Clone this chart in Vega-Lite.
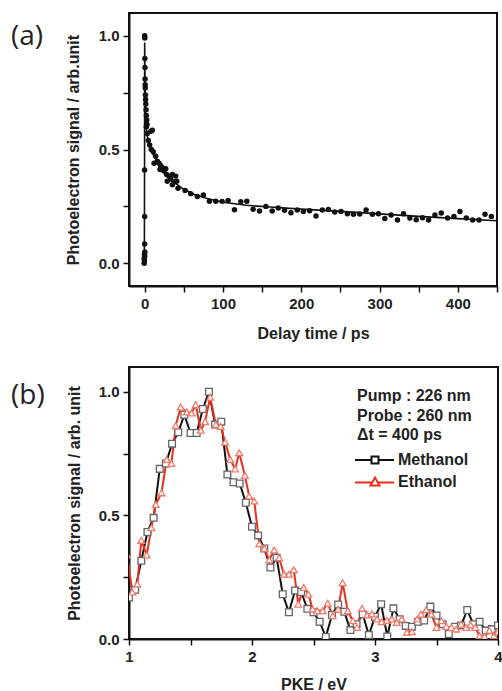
{
  "$schema": "https://vega.github.io/schema/vega-lite/v6.json",
  "padding": {"left": 10, "top": 12, "right": 0, "bottom": 0},
  "spacing": 24,
  "resolve": {"legend": {"color": "independent"}, "scale": {"color": "independent"}},
  "datasets": {
    "scatter": [
      {"t": -0.5, "v": 0.0}, {"t": -0.3, "v": 0.01}, {"t": -0.6, "v": 0.02}, {"t": 0.0, "v": 0.03}, {"t": -0.2, "v": 0.04}, {"t": 0.2, "v": 0.05}, {"t": 0.0, "v": 0.085}, {"t": 0.0, "v": 0.205}, {"t": -0.1, "v": 0.41},
      {"t": 0.0, "v": 1.0}, {"t": 0.2, "v": 0.99}, {"t": 0.3, "v": 0.9}, {"t": 0.4, "v": 0.86}, {"t": 0.5, "v": 0.81}, {"t": 0.6, "v": 0.785}, {"t": 0.8, "v": 0.77}, {"t": 1.0, "v": 0.74}, {"t": 1.2, "v": 0.72}, {"t": 1.5, "v": 0.7}, {"t": 1.8, "v": 0.675}, {"t": 2.2, "v": 0.65}, {"t": 2.6, "v": 0.63}, {"t": 3.0, "v": 0.61},
      {"t": 2.1, "v": 0.6}, {"t": 3.4, "v": 0.57}, {"t": 4.7, "v": 0.54}, {"t": 6.4, "v": 0.52}, {"t": 8.5, "v": 0.5}, {"t": 7.9, "v": 0.58}, {"t": 9.8, "v": 0.585}, {"t": 11, "v": 0.49}, {"t": 12, "v": 0.44}, {"t": 14, "v": 0.47}, {"t": 16.2, "v": 0.448}, {"t": 18.3, "v": 0.44}, {"t": 19.6, "v": 0.412}, {"t": 20.5, "v": 0.43}, {"t": 22.6, "v": 0.42}, {"t": 24.7, "v": 0.405}, {"t": 26.9, "v": 0.415}, {"t": 28.1, "v": 0.39}, {"t": 28.9, "v": 0.36}, {"t": 31, "v": 0.383}, {"t": 33.3, "v": 0.37}, {"t": 35.4, "v": 0.39}, {"t": 35.4, "v": 0.345}, {"t": 37.5, "v": 0.357}, {"t": 39.7, "v": 0.383}, {"t": 41, "v": 0.36}, {"t": 42.6, "v": 0.33},
      {"t": 51.6, "v": 0.32}, {"t": 58.8, "v": 0.306}, {"t": 67.3, "v": 0.293}, {"t": 75, "v": 0.3}, {"t": 82.7, "v": 0.273}, {"t": 90.8, "v": 0.273}, {"t": 98.9, "v": 0.272}, {"t": 106.6, "v": 0.276}, {"t": 114.7, "v": 0.235}, {"t": 122.8, "v": 0.27}, {"t": 130.5, "v": 0.273}, {"t": 138.6, "v": 0.237}, {"t": 146.7, "v": 0.23}, {"t": 154.8, "v": 0.25}, {"t": 162.9, "v": 0.23}, {"t": 170.6, "v": 0.243}, {"t": 178.7, "v": 0.233}, {"t": 186.8, "v": 0.222}, {"t": 194.9, "v": 0.234}, {"t": 202.6, "v": 0.228}, {"t": 210.7, "v": 0.231}, {"t": 218.8, "v": 0.208}, {"t": 226.9, "v": 0.234}, {"t": 234.6, "v": 0.236}, {"t": 242.7, "v": 0.225}, {"t": 250.8, "v": 0.228}, {"t": 258.9, "v": 0.218}, {"t": 266.6, "v": 0.215}, {"t": 274.7, "v": 0.216}, {"t": 282.8, "v": 0.234}, {"t": 290.9, "v": 0.215}, {"t": 298.6, "v": 0.218}, {"t": 306.7, "v": 0.197}, {"t": 314.8, "v": 0.212}, {"t": 322.9, "v": 0.19}, {"t": 330.6, "v": 0.218}, {"t": 338.7, "v": 0.199}, {"t": 346.8, "v": 0.191}, {"t": 354.9, "v": 0.2}, {"t": 362.6, "v": 0.19}, {"t": 370.7, "v": 0.212}, {"t": 378.8, "v": 0.221}, {"t": 386.9, "v": 0.199}, {"t": 395, "v": 0.205}, {"t": 402.7, "v": 0.227}, {"t": 410.8, "v": 0.199}, {"t": 418.9, "v": 0.19}, {"t": 427, "v": 0.19}, {"t": 434.7, "v": 0.215}, {"t": 442.8, "v": 0.206}
    ],
    "fit": [
      {"t": -2, "v": 0}, {"t": -0.4, "v": 0.0}, {"t": -0.1, "v": 0.5}, {"t": 0, "v": 0.97}, {"t": 0.5, "v": 0.8}, {"t": 1, "v": 0.7}, {"t": 2, "v": 0.6}, {"t": 3, "v": 0.565}, {"t": 5, "v": 0.53}, {"t": 8, "v": 0.5}, {"t": 12, "v": 0.47}, {"t": 17, "v": 0.44}, {"t": 23, "v": 0.41}, {"t": 30, "v": 0.38}, {"t": 40, "v": 0.35}, {"t": 50, "v": 0.325}, {"t": 65, "v": 0.3}, {"t": 80, "v": 0.285}, {"t": 100, "v": 0.268}, {"t": 130, "v": 0.255}, {"t": 160, "v": 0.247}, {"t": 200, "v": 0.238}, {"t": 250, "v": 0.228}, {"t": 300, "v": 0.217}, {"t": 350, "v": 0.206}, {"t": 400, "v": 0.196}, {"t": 450, "v": 0.187}
    ],
    "pke": [
      {"series": "Methanol", "E": 1.00, "v": 0.168}, {"series": "Methanol", "E": 1.05, "v": 0.199}, {"series": "Methanol", "E": 1.10, "v": 0.316}, {"series": "Methanol", "E": 1.15, "v": 0.433}, {"series": "Methanol", "E": 1.20, "v": 0.49}, {"series": "Methanol", "E": 1.25, "v": 0.688}, {"series": "Methanol", "E": 1.30, "v": 0.71}, {"series": "Methanol", "E": 1.35, "v": 0.79}, {"series": "Methanol", "E": 1.40, "v": 0.836}, {"series": "Methanol", "E": 1.45, "v": 0.907}, {"series": "Methanol", "E": 1.50, "v": 0.833}, {"series": "Methanol", "E": 1.55, "v": 0.833}, {"series": "Methanol", "E": 1.60, "v": 0.93}, {"series": "Methanol", "E": 1.65, "v": 1.0}, {"series": "Methanol", "E": 1.70, "v": 0.867}, {"series": "Methanol", "E": 1.75, "v": 0.879}, {"series": "Methanol", "E": 1.80, "v": 0.665}, {"series": "Methanol", "E": 1.85, "v": 0.634}, {"series": "Methanol", "E": 1.90, "v": 0.629}, {"series": "Methanol", "E": 1.95, "v": 0.551}, {"series": "Methanol", "E": 2.00, "v": 0.454}, {"series": "Methanol", "E": 2.05, "v": 0.419}, {"series": "Methanol", "E": 2.10, "v": 0.366}, {"series": "Methanol", "E": 2.15, "v": 0.289}, {"series": "Methanol", "E": 2.20, "v": 0.329}, {"series": "Methanol", "E": 2.25, "v": 0.181}, {"series": "Methanol", "E": 2.30, "v": 0.108}, {"series": "Methanol", "E": 2.35, "v": 0.196}, {"series": "Methanol", "E": 2.40, "v": 0.19}, {"series": "Methanol", "E": 2.45, "v": 0.122}, {"series": "Methanol", "E": 2.50, "v": 0.108}, {"series": "Methanol", "E": 2.55, "v": 0.07}, {"series": "Methanol", "E": 2.60, "v": 0.008}, {"series": "Methanol", "E": 2.65, "v": 0.097}, {"series": "Methanol", "E": 2.70, "v": 0.14}, {"series": "Methanol", "E": 2.75, "v": 0.11}, {"series": "Methanol", "E": 2.80, "v": 0.036}, {"series": "Methanol", "E": 2.85, "v": 0.06}, {"series": "Methanol", "E": 2.90, "v": 0.1}, {"series": "Methanol", "E": 2.95, "v": 0.016}, {"series": "Methanol", "E": 3.00, "v": 0.09}, {"series": "Methanol", "E": 3.05, "v": 0.141}, {"series": "Methanol", "E": 3.10, "v": 0.01}, {"series": "Methanol", "E": 3.15, "v": 0.124}, {"series": "Methanol", "E": 3.20, "v": 0.08}, {"series": "Methanol", "E": 3.25, "v": 0.053}, {"series": "Methanol", "E": 3.30, "v": 0.05}, {"series": "Methanol", "E": 3.35, "v": 0.07}, {"series": "Methanol", "E": 3.40, "v": 0.075}, {"series": "Methanol", "E": 3.45, "v": 0.131}, {"series": "Methanol", "E": 3.50, "v": 0.095}, {"series": "Methanol", "E": 3.55, "v": 0.06}, {"series": "Methanol", "E": 3.60, "v": 0.02}, {"series": "Methanol", "E": 3.65, "v": 0.05}, {"series": "Methanol", "E": 3.70, "v": 0.055}, {"series": "Methanol", "E": 3.75, "v": 0.117}, {"series": "Methanol", "E": 3.80, "v": 0.06}, {"series": "Methanol", "E": 3.85, "v": 0.07}, {"series": "Methanol", "E": 3.90, "v": 0.034}, {"series": "Methanol", "E": 3.95, "v": 0.04}, {"series": "Methanol", "E": 4.00, "v": 0.055},
      {"series": "Ethanol", "E": 0.985, "v": 0.34}, {"series": "Ethanol", "E": 1.027, "v": 0.19}, {"series": "Ethanol", "E": 1.068, "v": 0.222}, {"series": "Ethanol", "E": 1.10, "v": 0.399}, {"series": "Ethanol", "E": 1.144, "v": 0.34}, {"series": "Ethanol", "E": 1.182, "v": 0.45}, {"series": "Ethanol", "E": 1.217, "v": 0.544}, {"series": "Ethanol", "E": 1.264, "v": 0.591}, {"series": "Ethanol", "E": 1.307, "v": 0.726}, {"series": "Ethanol", "E": 1.345, "v": 0.71}, {"series": "Ethanol", "E": 1.38, "v": 0.863}, {"series": "Ethanol", "E": 1.42, "v": 0.938}, {"series": "Ethanol", "E": 1.47, "v": 0.918}, {"series": "Ethanol", "E": 1.508, "v": 0.914}, {"series": "Ethanol", "E": 1.543, "v": 0.948}, {"series": "Ethanol", "E": 1.584, "v": 0.844}, {"series": "Ethanol", "E": 1.619, "v": 0.88}, {"series": "Ethanol", "E": 1.66, "v": 0.978}, {"series": "Ethanol", "E": 1.706, "v": 0.867}, {"series": "Ethanol", "E": 1.745, "v": 0.86}, {"series": "Ethanol", "E": 1.782, "v": 0.796}, {"series": "Ethanol", "E": 1.823, "v": 0.726}, {"series": "Ethanol", "E": 1.863, "v": 0.688}, {"series": "Ethanol", "E": 1.896, "v": 0.753}, {"series": "Ethanol", "E": 1.942, "v": 0.661}, {"series": "Ethanol", "E": 1.977, "v": 0.578}, {"series": "Ethanol", "E": 2.018, "v": 0.558}, {"series": "Ethanol", "E": 2.06, "v": 0.385}, {"series": "Ethanol", "E": 2.10, "v": 0.366}, {"series": "Ethanol", "E": 2.14, "v": 0.32}, {"series": "Ethanol", "E": 2.18, "v": 0.36}, {"series": "Ethanol", "E": 2.22, "v": 0.329}, {"series": "Ethanol", "E": 2.26, "v": 0.262}, {"series": "Ethanol", "E": 2.30, "v": 0.262}, {"series": "Ethanol", "E": 2.34, "v": 0.28}, {"series": "Ethanol", "E": 2.376, "v": 0.141}, {"series": "Ethanol", "E": 2.42, "v": 0.208}, {"series": "Ethanol", "E": 2.458, "v": 0.181}, {"series": "Ethanol", "E": 2.493, "v": 0.121}, {"series": "Ethanol", "E": 2.53, "v": 0.114}, {"series": "Ethanol", "E": 2.575, "v": 0.114}, {"series": "Ethanol", "E": 2.616, "v": 0.145}, {"series": "Ethanol", "E": 2.656, "v": 0.094}, {"series": "Ethanol", "E": 2.70, "v": 0.12}, {"series": "Ethanol", "E": 2.737, "v": 0.228}, {"series": "Ethanol", "E": 2.778, "v": 0.114}, {"series": "Ethanol", "E": 2.82, "v": 0.074}, {"series": "Ethanol", "E": 2.854, "v": 0.047}, {"series": "Ethanol", "E": 2.895, "v": 0.124}, {"series": "Ethanol", "E": 2.936, "v": 0.097}, {"series": "Ethanol", "E": 2.974, "v": 0.101}, {"series": "Ethanol", "E": 3.017, "v": 0.081}, {"series": "Ethanol", "E": 3.055, "v": 0.07}, {"series": "Ethanol", "E": 3.096, "v": 0.075}, {"series": "Ethanol", "E": 3.137, "v": 0.081}, {"series": "Ethanol", "E": 3.177, "v": 0.067}, {"series": "Ethanol", "E": 3.218, "v": 0.081}, {"series": "Ethanol", "E": 3.26, "v": 0.027}, {"series": "Ethanol", "E": 3.30, "v": 0.03}, {"series": "Ethanol", "E": 3.343, "v": 0.081}, {"series": "Ethanol", "E": 3.375, "v": 0.1}, {"series": "Ethanol", "E": 3.416, "v": 0.118}, {"series": "Ethanol", "E": 3.458, "v": 0.1}, {"series": "Ethanol", "E": 3.50, "v": 0.047}, {"series": "Ethanol", "E": 3.54, "v": 0.074}, {"series": "Ethanol", "E": 3.58, "v": 0.051}, {"series": "Ethanol", "E": 3.62, "v": 0.047}, {"series": "Ethanol", "E": 3.66, "v": 0.04}, {"series": "Ethanol", "E": 3.70, "v": 0.06}, {"series": "Ethanol", "E": 3.742, "v": 0.047}, {"series": "Ethanol", "E": 3.777, "v": 0.057}, {"series": "Ethanol", "E": 3.815, "v": 0.047}, {"series": "Ethanol", "E": 3.85, "v": 0.013}, {"series": "Ethanol", "E": 3.89, "v": 0.01}, {"series": "Ethanol", "E": 3.93, "v": 0.035}, {"series": "Ethanol", "E": 3.967, "v": 0.013}, {"series": "Ethanol", "E": 4.0, "v": 0.03}
    ]
  },
  "vconcat": [
    {
      "width": 368,
      "height": 273,
      "title": {"text": "(a)", "anchor": "start", "frame": "group", "font": "Open Sans", "fontSize": 28, "fontWeight": "normal", "color": "#222222", "dx": -118, "dy": 60, "offset": 0, "baseline": "alphabetic"},
      "layer": [
        {
          "mark": {"type": "rule", "strokeDash": [2, 4], "color": "#444444", "strokeWidth": 1.5},
          "encoding": {"y": {"datum": 0, "type": "quantitative"}}
        },
        {
          "data": {"name": "fit"},
          "mark": {"type": "line", "color": "#111111", "strokeWidth": 1.6},
          "encoding": {
            "x": {"field": "t", "type": "quantitative", "sort": null},
            "y": {"field": "v", "type": "quantitative"}
          }
        },
        {
          "data": {"name": "scatter"},
          "mark": {"type": "circle", "color": "#111111", "size": 30, "opacity": 1},
          "encoding": {
            "x": {"field": "t", "type": "quantitative", "scale": {"domain": [-20, 450], "nice": false, "zero": false},
              "axis": {"title": "Delay time / ps", "values": [0, 50, 100, 150, 200, 250, 300, 350, 400, 450], "labelExpr": "datum.value % 100 === 0 ? format(datum.value, 'd') : ''", "titlePadding": 14}},
            "y": {"field": "v", "type": "quantitative", "scale": {"domain": [-0.1, 1.1], "nice": false, "zero": false},
              "axis": {"title": "Photoelectron signal / arb.unit", "values": [0, 0.25, 0.5, 0.75, 1.0], "labelExpr": "datum.value % 0.5 === 0 ? format(datum.value, '.1f') : ''", "titlePadding": 17}}
          }
        }
      ]
    },
    {
      "width": 369,
      "height": 272,
      "title": {"text": "(b)", "anchor": "start", "frame": "group", "font": "Open Sans", "fontSize": 28, "fontWeight": "normal", "color": "#222222", "dx": -118, "dy": 65, "offset": 0, "baseline": "alphabetic"},
      "data": {"name": "pke"},
      "layer": [
        {
          "mark": {"type": "line", "strokeWidth": 2, "clip": true},
          "encoding": {
            "x": {"field": "E", "type": "quantitative", "scale": {"domain": [1, 4], "nice": false, "zero": false},
              "axis": {"title": "PKE / eV", "values": [1, 1.5, 2, 2.5, 3, 3.5, 4], "labelExpr": "datum.value % 1 === 0 ? format(datum.value, 'd') : ''", "titlePadding": 12}},
            "y": {"field": "v", "type": "quantitative", "scale": {"domain": [0, 1.1], "nice": false, "zero": false},
              "axis": {"title": "Photoelectron signal / arb. unit", "values": [0, 0.25, 0.5, 0.75, 1.0], "labelExpr": "datum.value % 0.5 === 0 ? format(datum.value, '.1f') : ''", "titlePadding": 16}},
            "color": {"field": "series", "type": "nominal",
              "scale": {"domain": ["Methanol", "Ethanol"], "range": ["#111111", "#e8301c"]},
              "legend": {
                "orient": "none", "legendX": 228, "legendY": 21, "padding": 0,
                "title": ["Pump : 226 nm", "Probe : 260 nm", "Δt = 400 ps"],
                "titleFontSize": 16, "titleFontWeight": "bold", "titleColor": "#222222", "titleLineHeight": 19.5, "titlePadding": 6, "titleFont": "Liberation Sans",
                "labelFontSize": 16, "labelFontWeight": "bold", "labelColor": "#222222", "labelFont": "Liberation Sans", "labelOffset": 19,
                "symbolSize": 400, "symbolStrokeWidth": 2, "rowPadding": 3,
                "encode": {"symbols": {"update": {
                  "shape": {"signal": "datum.value === 'Methanol' ? 'M-1.3,0H0.35M1.05,0H2.6M0.35,-0.35H1.05V0.35H0.35Z' : 'M-1.3,0.05H0.42M0.98,0.05H2.6M0.7,-0.45L1.15,0.35H0.25Z'"},
                  "fill": {"value": "white"}
                }}}
              }
            }
          }
        },
        {
          "transform": [{"filter": "datum.series === 'Methanol'"}],
          "mark": {"type": "point", "shape": "square", "filled": false, "fill": "white", "stroke": "#666666", "size": 45, "strokeWidth": 1.3, "opacity": 1, "clip": true},
          "encoding": {
            "x": {"field": "E", "type": "quantitative"},
            "y": {"field": "v", "type": "quantitative"}
          }
        },
        {
          "transform": [{"filter": "datum.series === 'Ethanol'"}],
          "mark": {"type": "point", "shape": "triangle-up", "filled": false, "fill": "white", "stroke": "#f07a6a", "size": 45, "strokeWidth": 1.3, "opacity": 1, "clip": true},
          "encoding": {
            "x": {"field": "E", "type": "quantitative"},
            "y": {"field": "v", "type": "quantitative"}
          }
        }
      ]
    }
  ],
  "config": {
    "font": "Liberation Sans",
    "view": {"stroke": "#111111", "strokeWidth": 2},
    "axis": {"grid": false, "domainColor": "#111111", "domainWidth": 2, "tickColor": "#111111", "tickWidth": 1.5, "tickSize": 6,
      "labelFont": "Liberation Sans", "labelFontSize": 15, "labelFontWeight": "bold", "labelColor": "#222222", "labelPadding": 4, "labelFlush": false, "labelOverlap": false,
      "titleFont": "Liberation Sans", "titleFontSize": 16, "titleFontWeight": "bold", "titleColor": "#222222"}
  }
}
